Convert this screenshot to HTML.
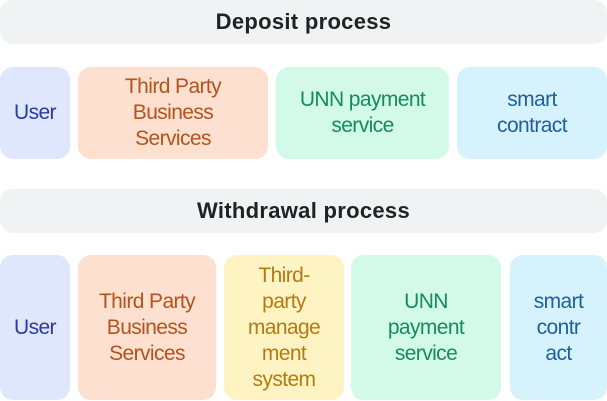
<!DOCTYPE html>
<html><head><meta charset="utf-8"><style>
body{margin:0;width:607px;height:401px;background:#fff;position:relative;overflow:hidden;font-family:"Liberation Sans",sans-serif}
.b{position:absolute;border-radius:13px;display:flex;align-items:center;justify-content:center;text-align:center;font-size:21px;line-height:26px;letter-spacing:-0.6px}
.h{background:#f1f2f4;color:#222;font-weight:bold;font-size:22px;letter-spacing:0.3px}
.u{background:#dfe7fd;color:#2b3aa6}
.t{background:#fde0cf;color:#b4531d}
.n{background:#d3fae8;color:#178a5e}
.s{background:#d6f3fd;color:#1f5f9c}
.m{background:#fef4c3;color:#b57a12}
</style></head><body>
<div class="b h" style="left:0;top:0;width:607px;height:44px">Deposit process</div>
<div class="b u" style="left:0;top:67px;width:70px;height:92px">User</div>
<div class="b t" style="left:78px;top:67px;width:190px;height:92px">Third Party<br>Business<br>Services</div>
<div class="b n" style="left:276px;top:67px;width:173px;height:92px">UNN payment<br>service</div>
<div class="b s" style="left:457px;top:67px;width:150px;height:92px">smart<br>contract</div>
<div class="b h" style="left:0;top:189px;width:607px;height:44px">Withdrawal process</div>
<div class="b u" style="left:0;top:255px;width:70px;height:145px">User</div>
<div class="b t" style="left:78px;top:255px;width:138px;height:145px">Third Party<br>Business<br>Services</div>
<div class="b m" style="left:224px;top:255px;width:120px;height:145px">Third-<br>party<br>manage<br>ment<br>system</div>
<div class="b n" style="left:351px;top:255px;width:150px;height:145px">UNN<br>payment<br>service</div>
<div class="b s" style="left:510px;top:255px;width:97px;height:145px">smart<br>contr<br>act</div>
</body></html>
